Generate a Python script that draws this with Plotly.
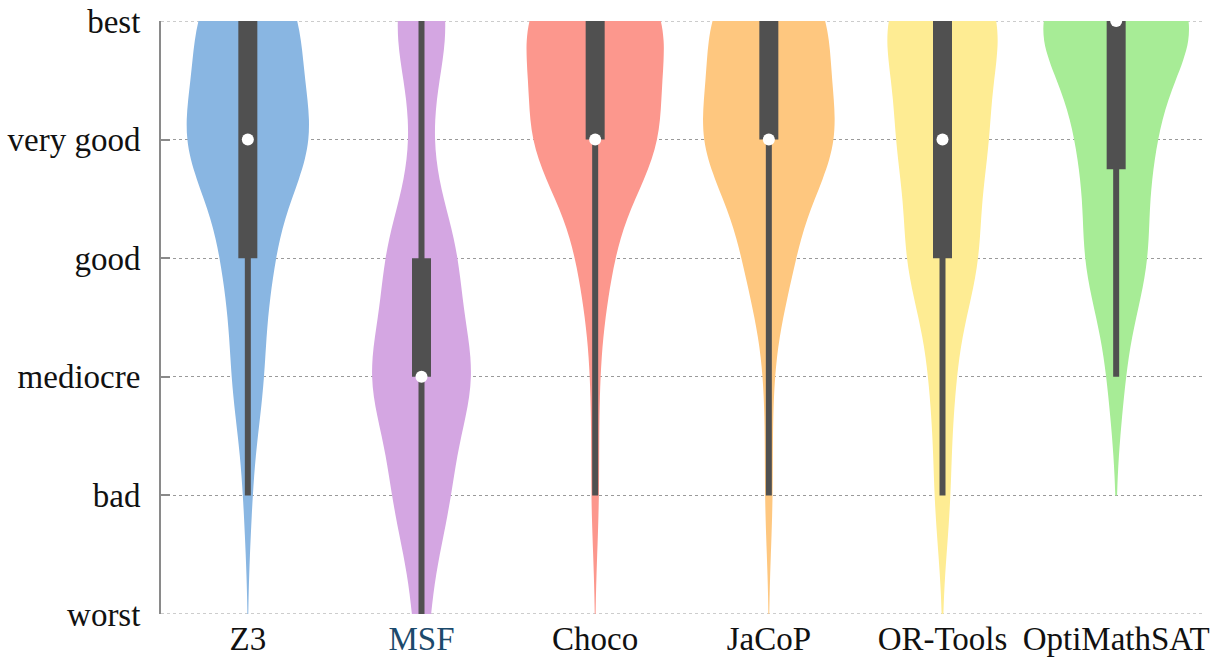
import numpy as np
import plotly.graph_objects as go

# Ordinal rating scale (index 0 = worst ... 5 = best)
levels = ["worst", "bad", "mediocre", "good", "very good", "best"]
tools = ["Z3", "MSF", "Choco", "JaCoP", "OR-Tools", "OptiMathSAT"]

# Number of ratings at each level, worst -> best, per tool
z3_counts = [0, 1, 4, 6, 16, 13]
msf_counts = [2, 7, 13, 9, 2, 7]
choco_counts = [0, 1, 1, 4, 16, 18]
jacop_counts = [0, 1, 1, 6, 17, 15]
ortools_counts = [0, 2, 3, 9, 11, 15]
optimathsat_counts = [0, 0, 2, 8, 9, 21]

counts = [z3_counts, msf_counts, choco_counts, jacop_counts,
          ortools_counts, optimathsat_counts]
colors = ["#89b6e2", "#d4a6e2", "#fc978d", "#fec77f", "#feec93", "#a7ec96"]
dark = "#505050"
grid_color = "#9a9a9a"
font_family = "Liberation Serif"


def expand(c):
    return np.repeat(np.arange(len(c)), c).astype(float)


fig = go.Figure()

samples = [expand(c) for c in counts]
for name, vals, col in zip(tools, samples, colors):
    fig.add_trace(go.Violin(
        x=[name] * len(vals), y=vals, name=name,
        fillcolor=col, line=dict(color=col, width=0),
        points=False, box_visible=False, meanline_visible=False,
        spanmode="soft", bandwidth=0.5,
        scalegroup="all", scalemode="count",
        hoverinfo="skip", showlegend=False,
    ))

# Inner box: whisker (min-max), interquartile bar, median dot
wx, wy, bx, by, mx, my = [], [], [], [], [], []
for name, vals in zip(tools, samples):
    q1, med, q3 = np.percentile(vals, [25, 50, 75])
    wx += [name, name, None]
    wy += [vals.min(), vals.max(), None]
    bx += [name, name, None]
    by += [q1, q3, None]
    mx.append(name)
    my.append(med)

fig.add_trace(go.Scatter(x=wx, y=wy, mode="lines",
                         line=dict(color=dark, width=6),
                         hoverinfo="skip", showlegend=False, cliponaxis=False))
fig.add_trace(go.Scatter(x=bx, y=by, mode="lines",
                         line=dict(color=dark, width=19),
                         hoverinfo="skip", showlegend=False, cliponaxis=False))
fig.add_trace(go.Scatter(x=mx, y=my, mode="markers",
                         marker=dict(color="white", size=12, line=dict(width=0)),
                         hoverinfo="skip", showlegend=False, cliponaxis=False))

# Dotted grid lines at the two ends of the scale (on the plot border)
for lv in (0, len(levels) - 1):
    fig.add_shape(type="line", xref="paper", yref="y", x0=0, x1=1, y0=lv, y1=lv,
                  line=dict(color=grid_color, width=1, dash="dot"), layer="below")

tick_text = [f'<span style="color:#1c4a6c">{t}</span>' if t == "MSF" else t
             for t in tools]

fig.update_layout(
    width=1223, height=658,
    margin=dict(l=161, r=20, t=21, b=44),
    paper_bgcolor="white", plot_bgcolor="white",
    violinmode="overlay", violingap=0.167, violingroupgap=0,
    font=dict(family=font_family, size=33, color="#111111"),
    xaxis=dict(
        type="category", categoryorder="array", categoryarray=tools,
        range=[-0.5, len(tools) - 0.5],
        tickvals=tools, ticktext=tick_text,
        showline=False, showgrid=False, zeroline=False, ticks="",
        ticklabelstandoff=2, automargin=False,
    ),
    yaxis=dict(
        range=[0, 5], tickvals=list(range(len(levels))), ticktext=levels,
        showline=True, linecolor="#8a8a8a", linewidth=2,
        ticks="inside", ticklen=9, tickwidth=2, tickcolor="#8a8a8a",
        showgrid=True, gridcolor=grid_color, gridwidth=1, griddash="dot",
        zeroline=False, ticklabelstandoff=12, automargin=False,
    ),
)

fig.write_html("out.html")
